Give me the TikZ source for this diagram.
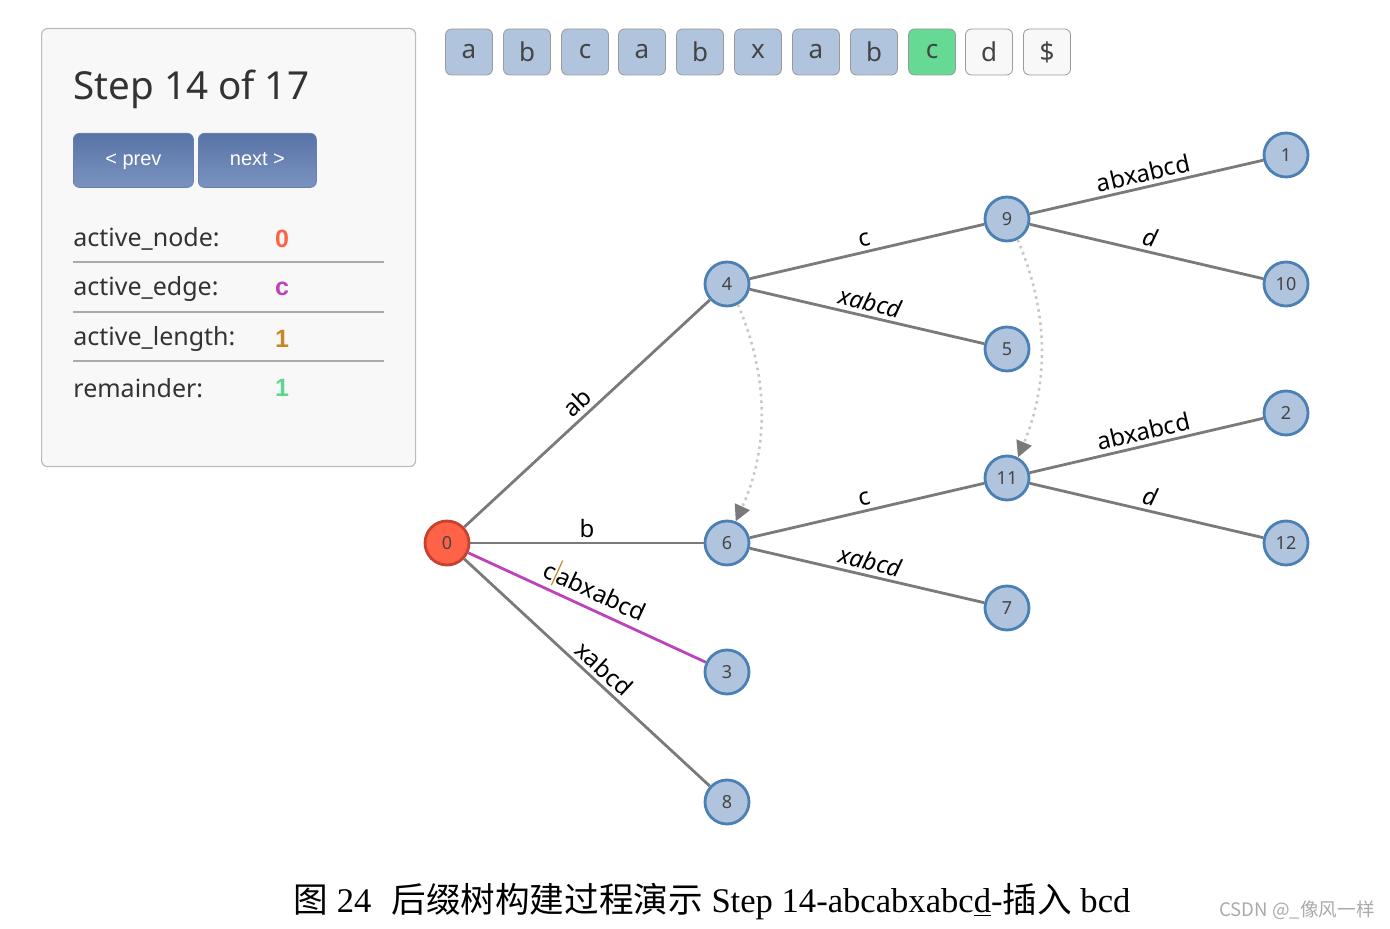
\documentclass[tikz,border=0pt]{standalone}
\usepackage{fontspec}
\setmainfont{Liberation Serif}
\newfontfamily\uifont{Noto Sans}
\newfontfamily\btnfont{Liberation Sans}
\newfontfamily\valfont{Liberation Sans}
\newfontfamily\cjk{Noto Sans CJK SC}
\usetikzlibrary{arrows.meta}

\definecolor{nodefill}{HTML}{B0C4DE}
\definecolor{nodeline}{HTML}{4A80B4}
\definecolor{rootfill}{HTML}{FF6347}
\definecolor{rootline}{HTML}{C8402E}
\definecolor{edgegray}{HTML}{7A7A7A}
\definecolor{linkgray}{HTML}{C8C8C8}
\definecolor{boxline}{HTML}{9A9A9A}
\definecolor{curgreen}{HTML}{66D994}
\definecolor{emptyfill}{HTML}{F8F8F8}
\definecolor{panelfill}{HTML}{F8F8F8}
\definecolor{panelline}{HTML}{BBBBBB}
\definecolor{btntop}{HTML}{5873A6}
\definecolor{btnbot}{HTML}{7A93C0}
\definecolor{txtdark}{HTML}{333333}
\definecolor{txtgray}{HTML}{444444}
\definecolor{actpurple}{HTML}{BB44BB}
\definecolor{actorange}{HTML}{C8862A}
\definecolor{actgreen}{HTML}{5FD68F}
\definecolor{markgray}{HTML}{AAAAAA}

\begin{document}
\begin{tikzpicture}[x=0.5pt,y=-0.5pt,
  font=\uifont,
  tnode/.style={circle,draw=nodeline,fill=nodefill,line width=1.4pt,minimum size=22pt,inner sep=0pt,text=txtgray,font=\uifont\fontsize{9}{10}\selectfont},
  root/.style={tnode,fill=rootfill,draw=rootline},
  edg/.style={draw=edgegray,line width=1.4pt},
  elab/.style={midway,sloped,above,inner sep=2pt,text=black,font=\uifont\fontsize{12}{14}\selectfont},
  slink/.style={draw=linkgray,line width=1.3pt,dotted,-{Triangle[length=8pt,width=8pt,color=edgegray]}},
  chr/.style={draw=boxline,fill=nodefill,rounded corners=3pt,minimum width=23.5pt,minimum height=23pt,inner sep=0pt,text=txtgray,font=\uifont\fontsize{13}{15}\selectfont},
  btn/.style={rounded corners=3pt,top color=btntop,bottom color=btnbot,draw=btntop!90,minimum height=27pt,inner sep=0pt,text height=7.5pt,text depth=2.5pt,text=white,font=\btnfont\fontsize{10}{12}\selectfont},
  rowlab/.style={anchor=west,inner sep=0pt,text=txtdark,font=\uifont\fontsize{12.5}{15}\selectfont},
  rowval/.style={font=\valfont\bfseries\fontsize{12.5}{15}\selectfont},
  sep/.style={draw=markgray,line width=0.6pt}]

 \useasboundingbox (0,0) rectangle (1390,929);

 % ---- control panel ----
 \node[draw=panelline,fill=panelfill,rounded corners=3pt,line width=0.6pt,minimum width=187pt,minimum height=219pt,anchor=north west] (panel) at (41,28) {};
 \node[anchor=base west,inner sep=0pt,text=txtdark,font=\uifont\fontsize{19.3}{23}\selectfont] (title) at (73,100) {Step 14 of 17};
 \node[btn,minimum width=60pt,anchor=north west] (prev) at (73,133) {< prev};
 \node[btn,minimum width=59pt,anchor=north west] (next) at (198,133) {next >};

 \node[rowlab] (an) at (73,239) {active\_node:};
 \node[rowval,text=rootfill] (anv) at (282,239) {0};
 \draw[sep] (73,262) -- (384,262);
 \node[rowlab] (ae) at (73,289) {active\_edge:};
 \node[rowval,text=actpurple] (aev) at (282,289) {c};
 \draw[sep] (73,312) -- (384,312);
 \node[rowlab] (al) at (73,339) {active\_length:};
 \node[rowval,text=actorange] (alv) at (282,339) {1};
 \draw[sep] (73,361) -- (384,361);
 \node[rowlab] (rm) at (73,388) {remainder:};
 \node[rowval,text=actgreen] (rmv) at (282,388) {1};

 % ---- input string ----
 \node[chr] (c1) at (469,52) {a};
 \node[chr] (c2) at (527,52) {b};
 \node[chr] (c3) at (585,52) {c};
 \node[chr] (c4) at (642,52) {a};
 \node[chr] (c5) at (700,52) {b};
 \node[chr] (c6) at (758,52) {x};
 \node[chr] (c7) at (816,52) {a};
 \node[chr] (c8) at (874,52) {b};
 \node[chr,fill=curgreen] (c9) at (932,52) {c};
 \node[chr,fill=emptyfill] (c10) at (989,52) {d};
 \node[chr,fill=emptyfill] (c11) at (1047,52) {\$};

 % ---- suffix tree ----
 \node[root] (n0) at (447,543) {0};
 \node[tnode] (n4) at (727,284) {4};
 \node[tnode] (n6) at (727,543) {6};
 \node[tnode] (n3) at (727,672) {3};
 \node[tnode] (n8) at (727,802) {8};
 \node[tnode] (n9) at (1007,219) {9};
 \node[tnode] (n5) at (1007,349) {5};
 \node[tnode] (n11) at (1007,478) {11};
 \node[tnode] (n7) at (1007,608) {7};
 \node[tnode] (n1) at (1286,155) {1};
 \node[tnode] (n10) at (1286,284) {10};
 \node[tnode] (n2) at (1286,413) {2};
 \node[tnode] (n12) at (1286,543) {12};

 \draw[edg] (n0) -- node[elab] {ab} (n4);
 \draw[edg] (n0) -- node[elab] {b} (n6);
 \draw[edg,draw=actpurple] (n0) -- node[elab] {c\kern0.5pt\textcolor{actorange}{\rule[-0.3ex]{0.6pt}{2.1ex}}\kern0.5pt abxabcd} (n3);
 \draw[edg] (n0) -- node[elab,pos=0.53] {xabcd} (n8);
 \draw[edg] (n4) -- node[elab] {c} (n9);
 \draw[edg] (n4) -- node[elab,font=\uifont\itshape\fontsize{12}{14}\selectfont] {xabcd} (n5);
 \draw[edg] (n9) -- node[elab] {abxabcd} (n1);
 \draw[edg] (n9) -- node[elab,font=\uifont\itshape\fontsize{12}{14}\selectfont] {d} (n10);
 \draw[edg] (n6) -- node[elab] {c} (n11);
 \draw[edg] (n6) -- node[elab,font=\uifont\itshape\fontsize{12}{14}\selectfont] {xabcd} (n7);
 \draw[edg] (n11) -- node[elab] {abxabcd} (n2);
 \draw[edg] (n11) -- node[elab,font=\uifont\itshape\fontsize{12}{14}\selectfont] {d} (n12);

 % suffix links
 \draw[slink] (n4.-62) .. controls (770,380) and (768,450) .. (n6.68);
 \draw[slink] (n9.-63) .. controls (1050,315) and (1048,385) .. (n11.62);

 % ---- caption ----
 \node[anchor=base,inner sep=0pt,font=\fontsize{17.3}{20}\selectfont] (cap) at (712,912) {{\cjk 图} 24\hspace{10pt}{\cjk 后缀树构建过程演示} Step 14-abcabxabc\underline{d}-{\cjk 插入} bcd};
 \node[anchor=base,inner sep=0pt,text=markgray,font=\cjk\fontsize{9.3}{11}\selectfont] (mark) at (1297,916) {CSDN @\_像风一样};
\end{tikzpicture}
\end{document}
